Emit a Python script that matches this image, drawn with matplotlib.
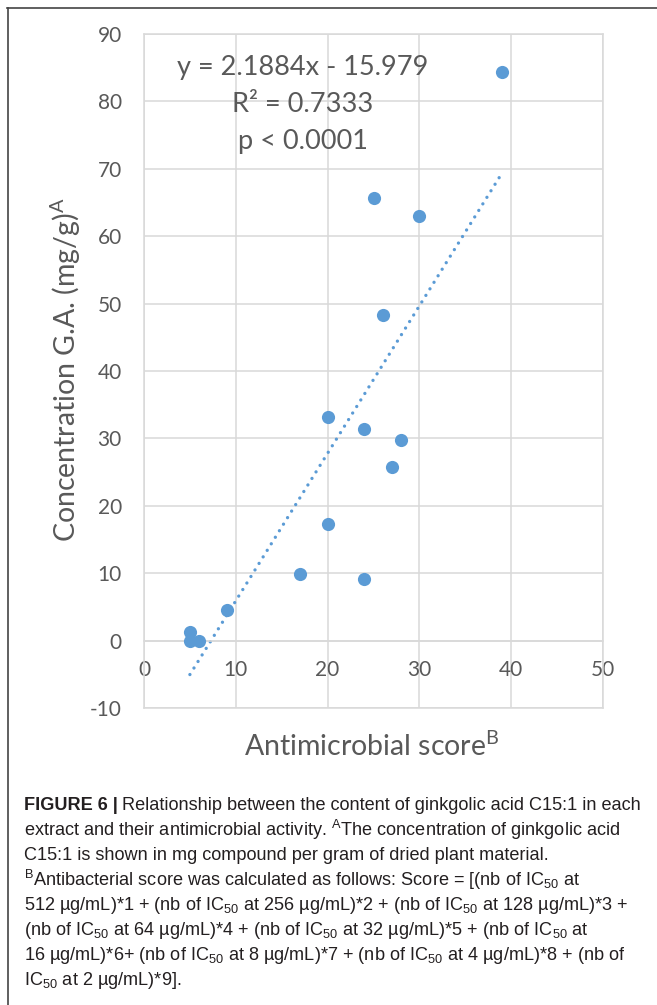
import matplotlib
matplotlib.use('Agg')
import matplotlib.pyplot as plt
from matplotlib.lines import Line2D

# antimicrobial score vs ginkgolic acid content
score = [39, 25, 30, 26, 20, 24, 28, 27, 20, 17, 24, 9, 5, 5, 6]
conc = [84.4, 65.7, 63.0, 48.3, 33.2, 31.4, 29.8, 25.8, 17.3, 9.9, 9.2, 4.6, 1.3, 0.0, 0.0]
slope = 2.1884
intercept = -15.979
fit_text = ['y = 2.1884x - 15.979', 'R\u00b2 = 0.7333', 'p < 0.0001']
x_ticks = [0, 10, 20, 30, 40, 50]
y_ticks = [-10, 0, 10, 20, 30, 40, 50, 60, 70, 80, 90]

caption = [
    'extract and their antimicrobial activity. $^{A}$The concentration of ginkgolic acid',
    'C15:1 is shown in mg compound per gram of dried plant material.',
    '$^{B}$Antibacterial score was calculated as follows: Score = [(nb of IC$_{50}$ at',
    '512 \u00b5g/mL)*1 + (nb of IC$_{50}$ at 256 \u00b5g/mL)*2 + (nb of IC$_{50}$ at 128 \u00b5g/mL)*3 +',
    '(nb of IC$_{50}$ at 64 \u00b5g/mL)*4 + (nb of IC$_{50}$ at 32 \u00b5g/mL)*5 + (nb of IC$_{50}$ at',
    '16 \u00b5g/mL)*6+ (nb of IC$_{50}$ at 8 \u00b5g/mL)*7 + (nb of IC$_{50}$ at 4 \u00b5g/mL)*8 + (nb of',
    'IC$_{50}$ at 2 \u00b5g/mL)*9].',
]

plt.rcParams['mathtext.default'] = 'regular'
plt.rcParams['axes.unicode_minus'] = False
plt.rcParams['font.family'] = ['Lato', 'DejaVu Sans']

W, H = 657, 1005
fig = plt.figure(figsize=(W / 100, H / 100), dpi=100)
fig.patch.set_facecolor('white')

gray = '#595959'
gridc = '#D9D9D9'
blue = '#5B9BD5'

ax = fig.add_axes([144 / W, 1 - 708 / H, (603 - 144) / W, (708 - 34) / H])
ax.set_xlim(0, 50)
ax.set_ylim(-10, 90)
ax.set_xticks(x_ticks)
ax.set_yticks(y_ticks)
ax.grid(True, color=gridc, lw=1.1)
ax.set_axisbelow(True)
for s in ['top', 'right', 'left']:
    ax.spines[s].set_color(gridc)
    ax.spines[s].set_linewidth(1.1)
ax.spines['bottom'].set_position(('data', 0))
ax.spines['bottom'].set_color(gridc)
ax.spines['bottom'].set_linewidth(1.1)
ax.axhline(-10, color=gridc, lw=1.1, clip_on=False)
ax.tick_params(length=0, labelsize=15, labelcolor=gray)
ax.tick_params(axis='y', pad=16)
ax.tick_params(axis='x', pad=14)

ax.scatter(score, conc, s=90, color=blue, zorder=3, linewidths=0)

# linear trend line over the range of the data
x0, x1 = min(score), max(score)
ax.plot([x0, x1], [slope * x0 + intercept, slope * x1 + intercept], color=blue,
        lw=2.4, linestyle=(0, (0.01, 2.3)), dash_capstyle='round', zorder=2)

for i, t in enumerate(fit_text):
    fig.text(303 / W, 1 - (68 + 37 * i) / H, t, ha='center', va='center',
             fontsize=19.5, color=gray)

fig.text(66 / W, 1 - 370 / H, 'Concentration G.A. (mg/g)$^{A}$', rotation=90,
         ha='center', va='center', fontsize=20.5, color=gray)
fig.text(372 / W, 1 - 746 / H, 'Antimicrobial score$^{B}$', ha='center', va='center',
         fontsize=20.5, color=gray)

# frame lines of the panel
fig.add_artist(Line2D([7 / W, 1], [1 - 8 / H, 1 - 8 / H], color='#444444', lw=1.2))
fig.add_artist(Line2D([8 / W, 8 / W], [1 - 8 / H, 0], color='#444444', lw=1.2))

# caption
cap_font = ['Liberation Sans Narrow', 'Liberation Sans', 'DejaVu Sans']
capc = '#231F20'
fs = 13.1
x_left = 24 / W
y0 = 805
step = 25.1
bold = fig.text(x_left, 1 - y0 / H, 'FIGURE 6 |', fontsize=fs, fontweight='bold',
                family=cap_font, color=capc, va='center')
fig.canvas.draw()
bb = bold.get_window_extent()
fig.text((bb.x1 + 4) / W, 1 - y0 / H, 'Relationship between the content of ginkgolic acid C15:1 in each',
         fontsize=fs, family=cap_font, color=capc, va='center')
for i, line in enumerate(caption):
    fig.text(x_left, 1 - (y0 + step * (i + 1)) / H, line, fontsize=fs,
             family=cap_font, color=capc, va='center')

fig.savefig('out.png', dpi=100)
